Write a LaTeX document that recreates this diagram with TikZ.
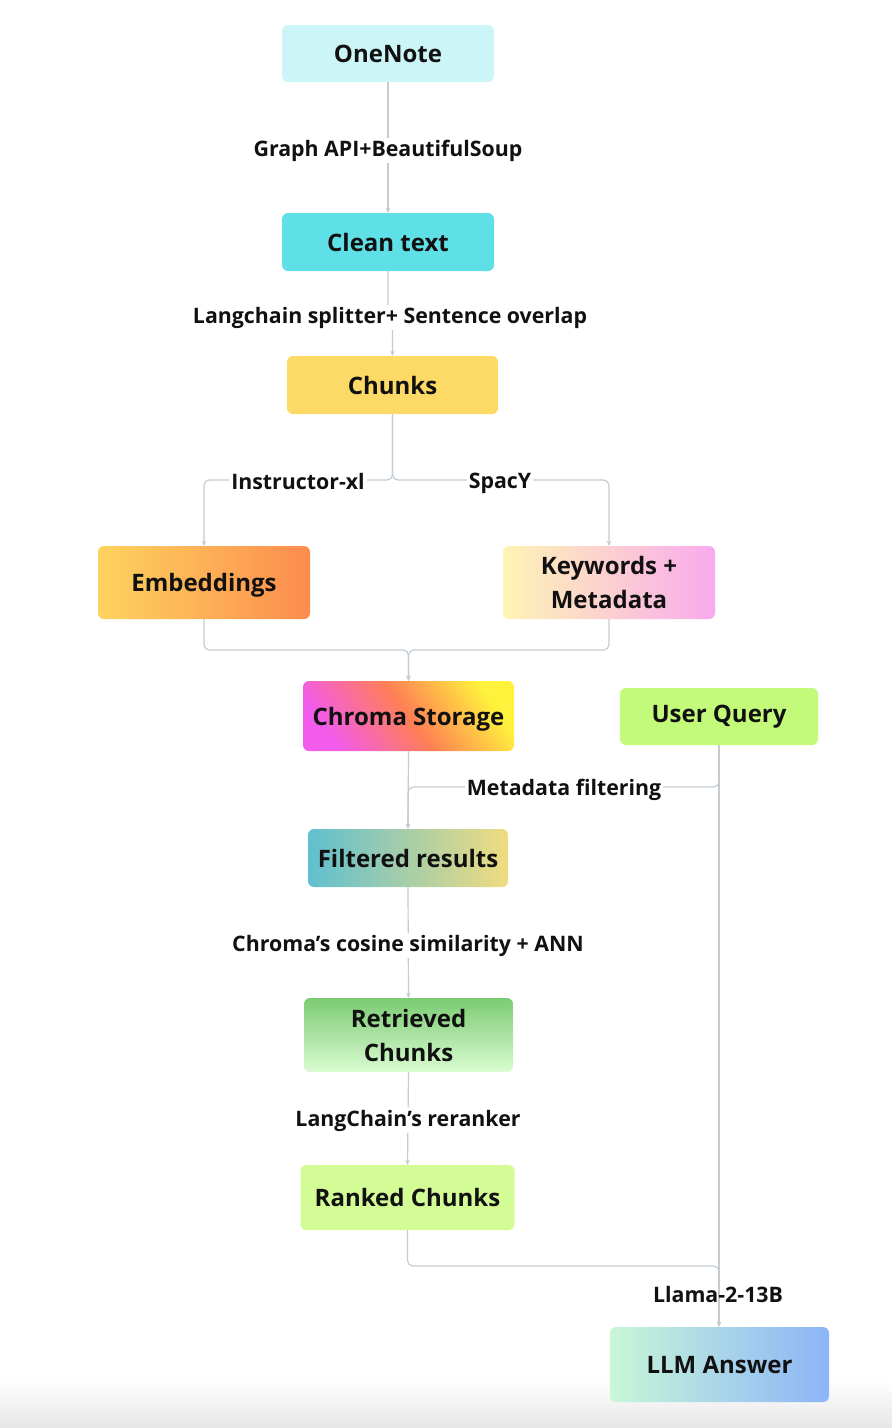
\documentclass[tikz,border=0pt]{standalone}
\usepackage{fontspec}
\setmainfont{Open Sans}
\usetikzlibrary{arrows.meta,calc}
\definecolor{lineC}{HTML}{C3CBD3}
\definecolor{txtC}{HTML}{111111}
\definecolor{oneC}{HTML}{CCF5F7}
\definecolor{cleanC}{HTML}{5FE0E6}
\definecolor{chunkC}{HTML}{FDD966}
\definecolor{embL}{HTML}{FDD35E}
\definecolor{embR}{HTML}{FD8C4E}
\definecolor{kwL}{HTML}{FEF4B4}
\definecolor{kwR}{HTML}{F9AAEE}
\definecolor{chMag}{HTML}{F25BEB}
\definecolor{chOr}{HTML}{FF7F55}
\definecolor{chYe}{HTML}{FFF23C}
\definecolor{uqC}{HTML}{C4FA7A}
\definecolor{fiL}{HTML}{60BFD0}
\definecolor{fiR}{HTML}{F0DC80}
\definecolor{reT}{HTML}{7BCB72}
\definecolor{reB}{HTML}{DAFCD2}
\definecolor{raC}{HTML}{D4FC96}
\definecolor{llL}{HTML}{C8F7D8}
\definecolor{llR}{HTML}{8CB4F8}
\definecolor{bgB}{HTML}{E6E6E6}
\pgfdeclarehorizontalshading{chroma}{100bp}{color(0bp)=(chMag); color(25bp)=(chMag); color(50bp)=(chOr); color(75bp)=(chYe); color(100bp)=(chYe)}
\begin{document}
\begin{tikzpicture}[x=0.75pt,y=-0.75pt,
  box/.style={rectangle, rounded corners=4.5pt, align=center, outer sep=0pt, inner sep=0pt,
    text=txtC, font=\bfseries\fontsize{18}{25.5}\selectfont},
  lowtext/.style={text height=18.5pt, text depth=4.3pt},
  lbl/.style={fill=white, inner sep=1.5pt, yshift=-2pt, text=txtC, font=\bfseries\fontsize{16}{19}\selectfont},
  lblnf/.style={inner sep=1.5pt, yshift=-2pt, text=txtC, font=\bfseries\fontsize{16}{19}\selectfont},
  conn/.style={draw=lineC, line width=0.9pt, rounded corners=4pt},
  arr/.style={conn, -{Stealth[length=4pt,width=3.5pt]}}]
\useasboundingbox (0,0) rectangle (892,1428);
\shade[top color=white, bottom color=bgB] (0,1380) rectangle (892,1428);

% nodes
\node[box, fill=oneC, minimum width=159pt, minimum height=42.75pt] (one) at (388,53.5) {OneNote};
\node[box, fill=cleanC, minimum width=159pt, minimum height=43.5pt] (clean) at (388,242) {Clean text};
\node[box, fill=chunkC, minimum width=158.25pt, minimum height=43.5pt] (chunks) at (392.5,385) {Chunks};
\node[box, lowtext, left color=embL, right color=embR, minimum width=159pt, minimum height=54.75pt] (emb) at (204,582.5) {Embeddings};
\node[box, left color=kwL, right color=kwR, minimum width=159pt, minimum height=54.75pt] (kw) at (609,582.5) {Keywords +\\Metadata};
\node[box, lowtext, shading=chroma, shading angle=35, minimum width=158.25pt, minimum height=52.5pt] (chroma) at (408.5,716) {Chroma Storage};
\node[box, fill=uqC, minimum width=148.5pt, minimum height=42.75pt] (uq) at (719,716.5) {User Query};
\node[box, left color=fiL, right color=fiR, minimum width=150pt, minimum height=43.5pt] (filt) at (408,858) {Filtered results};
\node[box, top color=reT, bottom color=reB, minimum width=156.75pt, minimum height=55.5pt] (ret) at (408.5,1035) {Retrieved\\Chunks};
\node[box, fill=raC, minimum width=160.5pt, minimum height=48.75pt] (rank) at (407.5,1197.5) {Ranked Chunks};
\node[box, left color=llL, right color=llR, minimum width=164.25pt, minimum height=56.25pt] (llm) at (719.5,1364.5) {LLM Answer};

% helper coordinates
\coordinate (ycl) at (0,315);
\coordinate (split) at (0,480);
\coordinate (merge) at (0,650);
\coordinate (mfy) at (0,787);
\coordinate (lly) at (0,1266);

% connectors
\draw[arr] (one.south) -- (clean.north);
\draw[arr] (clean.south) |- ($(clean.south |- ycl)!0.5!(chunks.north |- ycl)$) -| (chunks.north);
\draw[arr] (chunks.south) |- (emb.north |- split) -- (emb.north);
\draw[arr] (chunks.south) |- (kw.north |- split) -- (kw.north);
\draw[arr] (emb.south) |- (chroma.north |- merge) -- (chroma.north);
\draw[arr] (kw.south) |- (chroma.north |- merge) -- (chroma.north);
\draw[arr] (chroma.south) -- (filt.north);
\draw[arr] (uq.south) |- (filt.north |- mfy) -- (filt.north);
\draw[arr] (filt.south) -- (ret.north);
\draw[arr] (ret.south) -- (rank.north);
\draw[arr] (uq.south) -- (uq.south |- llm.north);
\draw[arr] (rank.south) |- (uq.south |- lly) -- (uq.south |- llm.north);

% labels
\node[lbl] (l1) at (388,148) {Graph API+BeautifulSoup};
\node[lbl] (l2) at (390,315) {Langchain splitter+ Sentence overlap};
\node[lbl] (l3) at (298,479) {Instructor-xl};
\node[lbl] (l4) at (500,481) {SpacY};
\node[lbl] (l5) at (564,787) {Metadata filtering};
\node[lbl] (l6) at (408,943) {Chroma’s cosine similarity + ANN};
\node[lbl] (l7) at (408,1118) {LangChain’s reranker};
\node[lblnf] (l8) at (718,1292) {Llama-2-13B};
\end{tikzpicture}
\end{document}
